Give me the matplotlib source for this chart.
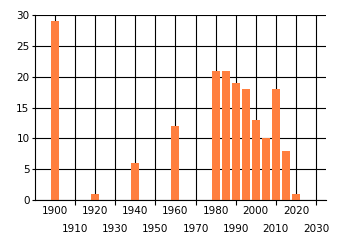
import matplotlib
matplotlib.use("Agg")
import matplotlib.pyplot as plt

years = [1900, 1920, 1940, 1960, 1980, 1985, 1990, 1995, 2000, 2005, 2010, 2015, 2020]
counts = [29, 1, 6, 12, 21, 21, 19, 18, 13, 10, 18, 8, 1]
row1_ticks = [1900, 1920, 1940, 1960, 1980, 2000, 2020]
row2_ticks = [1910, 1930, 1950, 1970, 1990, 2010, 2030]
y_ticks = [0, 5, 10, 15, 20, 25, 30]

fig = plt.figure(figsize=(3.4, 2.45), dpi=100)
ax = fig.add_axes([35/340, 45/245, 291/340, 185/245])
ax.set_axisbelow(True)
ax.bar(years, counts, width=4, color="#FF7F3F", zorder=2)

ax.set_xlim(1890, 2035)
ax.set_ylim(0, 30)

ax.set_xticks(row1_ticks, labels=[str(v) for v in row1_ticks])
ax.set_xticks(row2_ticks, labels=[str(v) for v in row2_ticks], minor=True)
ax.set_yticks(y_ticks, labels=[str(v) for v in y_ticks])

ax.tick_params(axis="x", which="major", length=0, pad=4.5, labelsize=7.5, colors="black")
ax.tick_params(axis="x", which="minor", length=3.5, width=0.8, pad=13.5, labelsize=7.5, colors="black")
ax.tick_params(axis="y", length=2, width=0.8, pad=2, labelsize=7.5, colors="black")

ax.grid(True, axis="x", which="both", color="black", linewidth=0.8)
ax.grid(True, axis="y", which="major", color="black", linewidth=0.8)

for s in ["top", "right"]:
    ax.spines[s].set_visible(False)
for s in ["left", "bottom"]:
    ax.spines[s].set_linewidth(0.8)

fig.savefig("out.png", dpi=100)
